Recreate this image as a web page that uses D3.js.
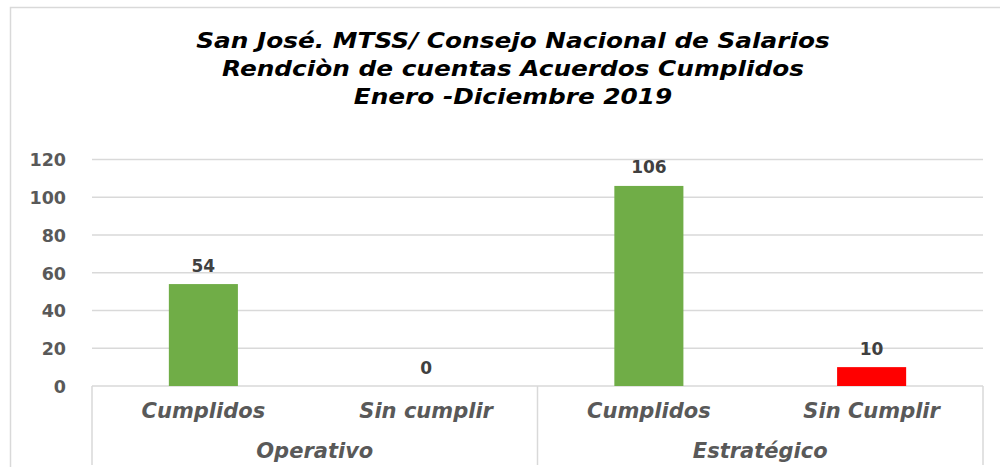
<!DOCTYPE html>
<html>
<head>
<meta charset="utf-8">
<script src="https://cdn.jsdelivr.net/npm/d3@7"></script>
<style>
  html, body { margin: 0; padding: 0; background: #fff; }
  svg { display: block; }
  text { font-family: "DejaVu Sans", Verdana, sans-serif; }
</style>
</head>
<body>
<svg id="chart" width="1000" height="467"></svg>
<script>
// ---- data ----
const titleLines = [
  "San José. MTSS/ Consejo Nacional de Salarios",
  "Rendciòn de cuentas Acuerdos Cumplidos",
  "Enero -Diciembre 2019"
];
const groups = ["Operativo", "Estratégico"];
const categories = ["Cumplidos", "Sin cumplir", "Cumplidos", "Sin Cumplir"];
const categoryGroup = [0, 0, 1, 1];
const values = [54, 0, 106, 10];
const barColors = ["#70AD47", "#70AD47", "#70AD47", "#FF0000"];
const yTicks = [0, 20, 40, 60, 80, 100, 120];

// ---- layout ----
const W = 1000, H = 467;
const plot = { left: 92, right: 983, top: 159.5, bottom: 386 };
const svg = d3.select("#chart");

svg.append("rect").attr("width", W).attr("height", H).attr("fill", "#fff");
// chart border (right/bottom edges fall outside the picture)
svg.append("rect")
  .attr("x", 10.5).attr("y", 7.5).attr("width", 1000).attr("height", 500)
  .attr("fill", "none").attr("stroke", "#d9d9d9").attr("stroke-width", 1.5);

const idx = categories.map((d, i) => i);
const x = d3.scaleBand().domain(idx).range([plot.left, plot.right])
  .paddingInner(0.69).paddingOuter(0.345);
const y = d3.scaleLinear().domain([0, 120]).range([plot.bottom, plot.top]);

// gridlines
svg.append("g").selectAll("line").data(yTicks).join("line")
  .attr("x1", plot.left).attr("x2", plot.right)
  .attr("y1", d => y(d)).attr("y2", d => y(d))
  .attr("stroke", "#d9d9d9").attr("stroke-width", 1.5);

// y axis labels via d3 axis
const yAxis = svg.append("g").attr("transform", `translate(${plot.left - 26},0)`)
  .call(d3.axisLeft(y).tickValues(yTicks).tickSize(0).tickPadding(0));
yAxis.select(".domain").remove();
yAxis.selectAll("text")
  .attr("font-family", "DejaVu Sans").attr("font-size", 17.5)
  .attr("font-weight", "bold").attr("fill", "#595959")
  .attr("dy", "0.36em");

// bars
svg.append("g").selectAll("rect").data(idx).join("rect")
  .attr("x", i => x(i)).attr("width", x.bandwidth())
  .attr("y", i => y(values[i])).attr("height", i => y(0) - y(values[i]))
  .attr("fill", i => barColors[i]);

// data labels
svg.append("g").selectAll("text").data(idx).join("text")
  .attr("x", i => x(i) + x.bandwidth() / 2)
  .attr("y", i => y(values[i]) - 12.5)
  .attr("text-anchor", "middle")
  .attr("font-size", 17).attr("font-weight", "bold").attr("fill", "#404040")
  .text(i => values[i]);

// category box lines
const step = x.step();
const groupBounds = [plot.left, plot.left + 2 * step, plot.right];
svg.append("g").selectAll("line").data(groupBounds).join("line")
  .attr("x1", d => d).attr("x2", d => d)
  .attr("y1", plot.bottom).attr("y2", 465)
  .attr("stroke", "#d9d9d9").attr("stroke-width", 1.5);

// category labels
svg.append("g").selectAll("text").data(idx).join("text")
  .attr("transform", i => `translate(${x(i) + x.bandwidth() / 2},418)`)
  .attr("text-anchor", "middle")
  .attr("font-size", 21).attr("font-weight", "bold").attr("font-style", "italic")
  .attr("fill", "#595959")
  .text(i => categories[i]);

// group labels
svg.append("g").selectAll("text").data(groups).join("text")
  .attr("transform", (g, gi) => `translate(${(groupBounds[gi] + groupBounds[gi + 1]) / 2},458)`)
  .attr("text-anchor", "middle")
  .attr("font-size", 21).attr("font-weight", "bold").attr("font-style", "italic")
  .attr("fill", "#595959")
  .text(g => g);

// title
svg.append("g").selectAll("text").data(titleLines).join("text")
  .attr("transform", (t, i) => `translate(513,${47.5 + i * 28}) scale(1.18,1)`)
  .attr("text-anchor", "middle")
  .attr("font-size", 21).attr("font-weight", "bold").attr("font-style", "italic")
  .attr("fill", "#000")
  .text(t => t);
</script>
</body>
</html>
